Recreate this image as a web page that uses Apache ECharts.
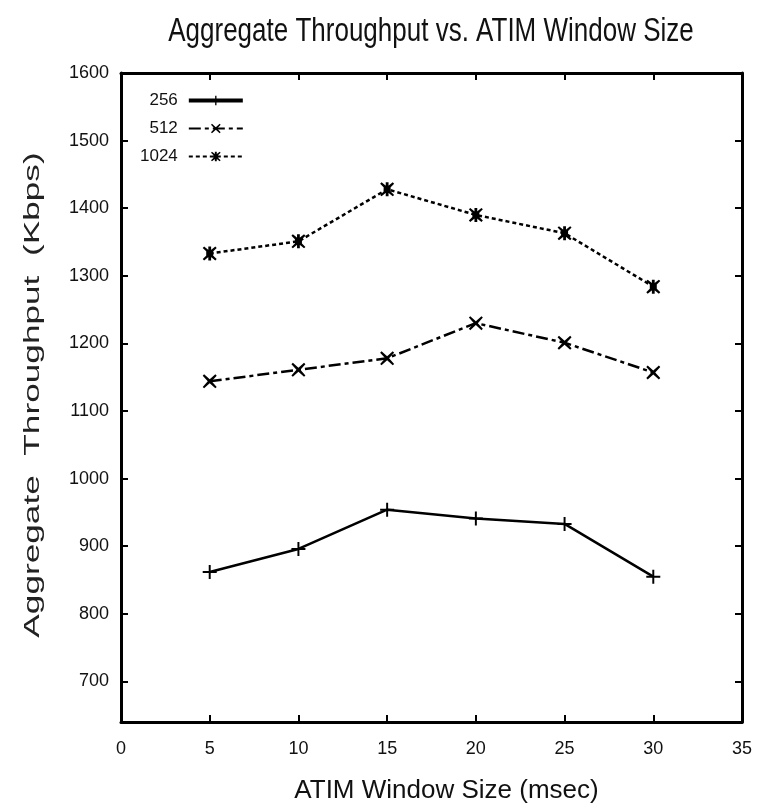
<!DOCTYPE html>
<html>
<head>
<meta charset="utf-8">
<script src="https://cdn.jsdelivr.net/npm/echarts@6/dist/echarts.min.js"></script>
<style>
  html, body { margin: 0; padding: 0; background: #fff; }
  #chart { width: 765px; height: 811px; }
</style>
</head>
<body>
<div id="chart"></div>
<script>
// ATIM window sizes (msec) and aggregate throughput (Kbps) per packet size
const windowSizes = [5, 10, 15, 20, 25, 30];
const series256 = [862, 896, 954, 941, 933, 855];
const series512 = [1144, 1161, 1178, 1230, 1201, 1157];
const series1024 = [1333, 1351, 1428, 1390, 1363, 1284];
const seriesNames = ['256', '512', '1024'];
const yTicks = [700, 800, 900, 1000, 1100, 1200, 1300, 1400, 1500, 1600];

const FONT = '"Liberation Sans", Arial, sans-serif';
const INK = '#000';
const TEXT = '#111';

// marker shapes built from filled bars
const plusSym = 'path://M0,4.3H10V5.7H0Z M4.3,0H5.7V10H4.3Z';
const crossSym = 'path://M1,0L5,3.6L9,0L10,1L6.4,5L10,9L9,10L5,6.4L1,10L0,9L3.6,5L0,1Z';
const starSym = 'path://M1,0L5,3.2L9,0L10,1L7,4V6L10,9L9,10L5,6.8L1,10L0,9L3,6V4L0,1Z M4,0H6V10H4Z M2.5,3H7.5V7H2.5Z';

function pairs(vals) {
  return windowSizes.map((x, i) => [x, vals[i]]);
}

const chart = echarts.init(document.getElementById('chart'), null, { renderer: 'canvas' });

const axisCommon = {
  axisLine: { show: true, onZero: false, lineStyle: { color: INK, width: 3 } },
  axisTick: { show: true, inside: true, length: 7, lineStyle: { color: INK, width: 2 } },
  splitLine: { show: false },
  axisLabel: { color: TEXT, fontFamily: FONT, fontSize: 18, formatter: v => String(v) }
};

chart.setOption({
  animation: false,
  backgroundColor: '#fff',
  graphic: [
    {
      // chart title, drawn a little tall
      type: 'text', x: 431, y: 32, scaleY: 1.3,
      style: {
        text: 'Aggregate Throughput vs. ATIM Window Size',
        fill: TEXT, font: '26px ' + FONT, align: 'center', verticalAlign: 'middle'
      }
    },
    {
      // vertical axis title
      type: 'text', x: 33, y: 395, rotation: Math.PI / 2, scaleX: 1.6,
      style: {
        text: 'Aggregate  Throughput  (Kbps)',
        fill: '#222', font: '22px ' + FONT, align: 'center', verticalAlign: 'middle'
      }
    }
  ],
  grid: { left: 121, right: 23, top: 73, bottom: 89 },
  legend: {
    orient: 'vertical', left: 135, top: 87, align: 'right',
    itemWidth: 54, itemHeight: 12, itemGap: 11,
    textStyle: { fontFamily: FONT, fontSize: 17, color: TEXT, padding: [0, 6, 0, 0] },
    data: [
      { name: seriesNames[0], lineStyle: { width: 4 } },
      { name: seriesNames[1] },
      { name: seriesNames[2] }
    ]
  },
  xAxis: [
    Object.assign({}, axisCommon, {
      type: 'value', min: 0, max: 35, interval: 5, position: 'bottom',
      axisLabel: Object.assign({}, axisCommon.axisLabel, { margin: 18 }),
      name: 'ATIM Window Size (msec)', nameLocation: 'middle', nameGap: 56,
      nameTextStyle: { fontFamily: FONT, fontSize: 26, color: TEXT, padding: [0, 0, 0, 30] }
    }),
    Object.assign({}, axisCommon, {
      type: 'value', min: 0, max: 35, interval: 5, position: 'top',
      axisLabel: { show: false }
    })
  ],
  yAxis: [
    Object.assign({}, axisCommon, {
      type: 'value', min: 640, max: 1600, position: 'left',
      axisTick: Object.assign({}, axisCommon.axisTick, { customValues: yTicks }),
      axisLabel: Object.assign({}, axisCommon.axisLabel, { margin: 12, customValues: yTicks })
    }),
    Object.assign({}, axisCommon, {
      type: 'value', min: 640, max: 1600, position: 'right',
      axisTick: Object.assign({}, axisCommon.axisTick, { customValues: yTicks }),
      axisLabel: { show: false }
    })
  ],
  series: [
    {
      name: seriesNames[0], type: 'line', data: pairs(series256),
      symbol: plusSym, symbolSize: 14,
      lineStyle: { color: INK, width: 2.5, type: 'solid' },
      itemStyle: { color: INK }
    },
    {
      name: seriesNames[1], type: 'line', data: pairs(series512),
      symbol: crossSym, symbolSize: 14,
      lineStyle: { color: INK, width: 2.5, type: [12, 4, 4, 4] },
      itemStyle: { color: INK }
    },
    {
      name: seriesNames[2], type: 'line', data: pairs(series1024),
      symbol: starSym, symbolSize: 14,
      lineStyle: { color: INK, width: 2.5, type: [4, 3] },
      itemStyle: { color: INK }
    }
  ]
});
</script>
</body>
</html>
